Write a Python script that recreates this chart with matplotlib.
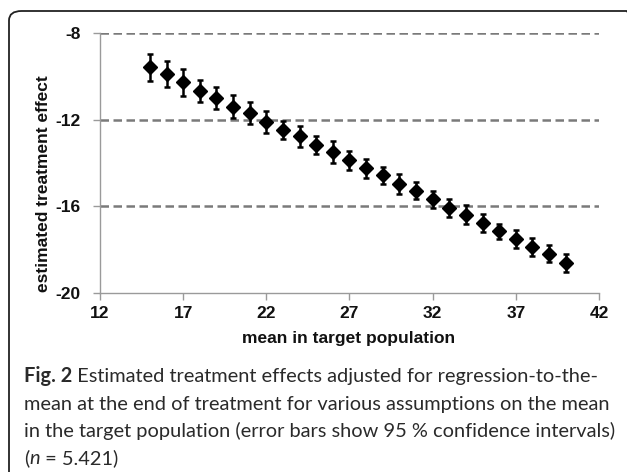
import numpy as np
import matplotlib
matplotlib.use("Agg")
import matplotlib.pyplot as plt
from matplotlib.patches import FancyBboxPatch

# values
target_mean = [15, 16, 17, 18, 19, 20, 21, 22, 23, 24, 25, 26, 27,
               28, 29, 30, 31, 32, 33, 34, 35, 36, 37, 38, 39, 40]
effect = [-9.58, -9.90, -10.28, -10.68, -11.02, -11.40, -11.69, -12.09,
          -12.49, -12.77, -13.18, -13.49, -13.87, -14.25, -14.57, -14.97,
          -15.28, -15.68, -16.08, -16.38, -16.77, -17.16, -17.49, -17.87,
          -18.18, -18.61]
ci_half = [0.63, 0.61, 0.62, 0.52, 0.51, 0.52, 0.51, 0.51, 0.42, 0.50,
           0.41, 0.50, 0.43, 0.43, 0.40, 0.44, 0.40, 0.40, 0.41, 0.43,
           0.40, 0.36, 0.42, 0.41, 0.41, 0.41]
x_ticks = [12, 17, 22, 27, 32, 37, 42]
y_ticks = [-20, -16, -12, -8]

caption = [
    [("Fig. 2", "bold", "normal"), (" Estimated treatment effects adjusted for regression-to-the-", "normal", "normal")],
    [("mean at the end of treatment for various assumptions on the mean", "normal", "normal")],
    [("in the target population (error bars show 95 % confidence intervals)", "normal", "normal")],
    [("(", "normal", "normal"), ("n", "normal", "italic"), (" = 5.421)", "normal", "normal")],
]

W, H = 627, 472
fig = plt.figure(figsize=(W / 100, H / 100), dpi=100)

# rounded frame around the figure (runs off the right and bottom edge)
frame = FancyBboxPatch((9 / W, -30 / H), 630 / W, (H - 11 + 30) / H,
                       boxstyle="round,pad=0,rounding_size=0.02",
                       transform=fig.transFigure, fill=False,
                       edgecolor="#222222", linewidth=1.3)
fig.patches.append(frame)

ax = fig.add_axes([100 / W, 1 - 293 / H, 499 / W, 260 / H])
grey = "#9a9a9a"
lab_font = "Liberation Sans"

for yv in y_ticks[1:]:
    ax.axhline(yv, color="#7a7a7a", linewidth=1.8, linestyle=(0, (3.4, 1.8)), zorder=1)

ax.errorbar(target_mean, effect, yerr=ci_half, fmt="D", color="black",
            markersize=7.4, ecolor="black", elinewidth=1.8, capsize=2.5,
            capthick=1.8, zorder=3)

ax.set_xlim(12, 42)
ax.set_ylim(-20, -8)
ax.set_xticks(x_ticks)
ax.set_yticks(y_ticks)
ax.set_xticklabels([str(v) for v in x_ticks], fontfamily=lab_font,
                   fontweight="bold", fontsize=12.5, color="#111111")
ax.set_yticklabels([str(v) for v in y_ticks], fontfamily=lab_font,
                   fontweight="bold", fontsize=12.5, color="#111111")

ax.tick_params(axis="both", direction="out", length=5, width=1, color=grey)
ax.tick_params(axis="x", pad=4)
ax.tick_params(axis="y", pad=9)

for side in ["top", "right"]:
    ax.spines[side].set_visible(False)
for side in ["left", "bottom"]:
    ax.spines[side].set_color(grey)
    ax.spines[side].set_linewidth(1)

fig.text(349 / W, 1 - 339 / H, "mean in target population", ha="center",
         va="center", fontfamily=lab_font, fontweight="bold", fontsize=12.5,
         color="#111111")
fig.text(43 / W, 1 - 184 / H, "estimated treatment effect", ha="center",
         va="center", rotation=90, fontfamily=lab_font, fontweight="bold",
         fontsize=12.5, color="#111111")

# caption, drawn run by run so the bold/italic parts sit inline
cap_font = "Lato"
fig.canvas.draw()
renderer = fig.canvas.get_renderer()
baselines = [382, 410, 437, 464]
for runs, base in zip(caption, baselines):
    x = 24
    for txt, weight, style in runs:
        t = fig.text(x / W, 1 - base / H, txt, ha="left", va="baseline",
                     fontfamily=cap_font, fontweight=weight, fontstyle=style,
                     fontsize=14.4, color="#2a2a2a")
        bb = t.get_window_extent(renderer)
        x += bb.width

fig.savefig("out.png", dpi=100)
